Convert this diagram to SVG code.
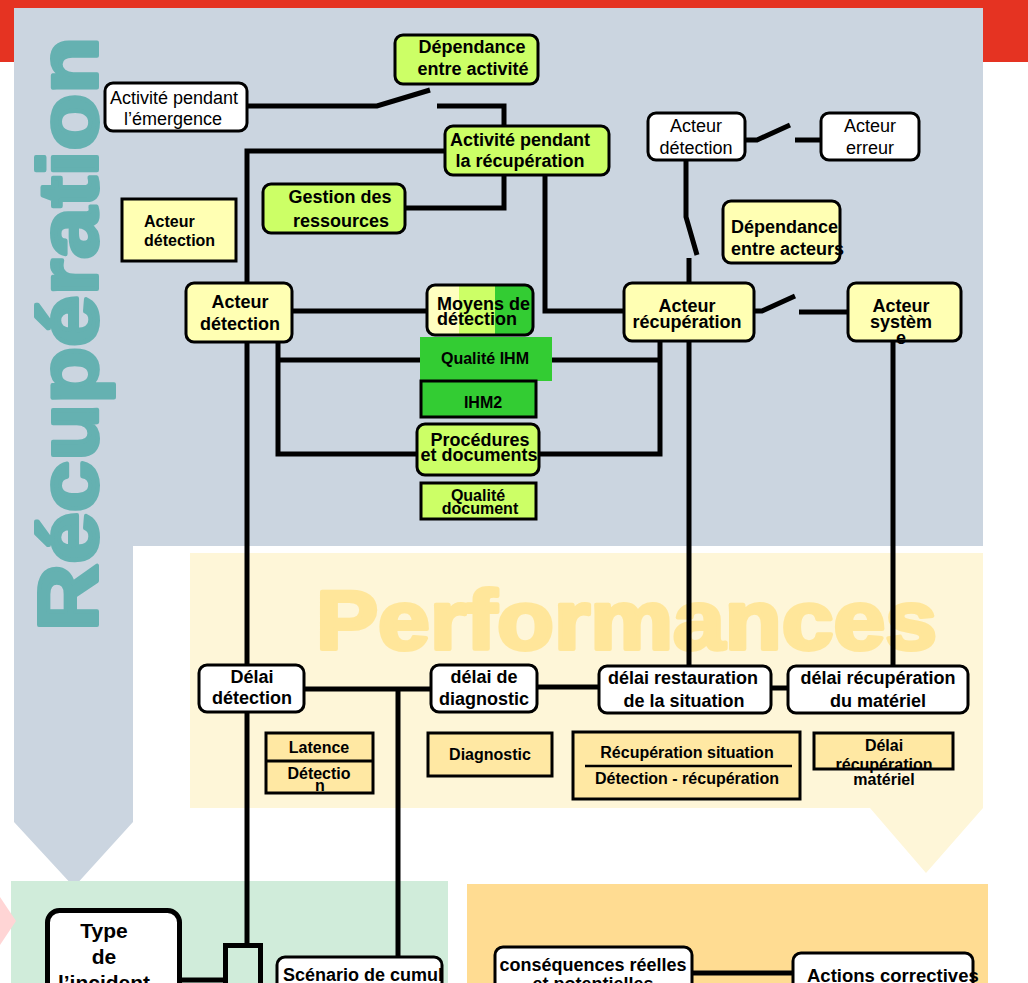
<svg xmlns="http://www.w3.org/2000/svg" width="1028" height="983" viewBox="0 0 1028 983">
<defs>
<linearGradient id="mdg" x1="0" y1="0" x2="1" y2="0">
<stop offset="0" stop-color="#FFFFC0"/><stop offset="0.30" stop-color="#FFFFC0"/>
<stop offset="0.30" stop-color="#CCFF66"/><stop offset="0.64" stop-color="#CCFF66"/>
<stop offset="0.64" stop-color="#33CC33"/><stop offset="1" stop-color="#33CC33"/>
</linearGradient>
<style>
.n{stroke:#000;stroke-width:3}
.t{font-family:"Liberation Sans",Arial,sans-serif;font-weight:bold;font-size:18px;text-anchor:middle;fill:#000}
.r{font-weight:normal}
.s{font-size:16px}
.st{text-anchor:start}
.c{fill:none;stroke:#000;stroke-width:5}
.gy{fill:#CCFF66}.yl{fill:#FFFFB3}.gr{fill:#33CC33}.w{fill:#fff}.pf{fill:#FFE8A3}
.big{font-family:"Liberation Sans",Arial,sans-serif;font-weight:bold;stroke-linejoin:round}
</style>
</defs>
<rect width="1028" height="983" fill="#fff"/>
<g id="backgrounds">
<rect x="0" y="0" width="1028" height="62" fill="#E53322"/>
<path d="M14,8 H983 V546 H133 V822 L74,887 L14,822 Z" fill="#CBD5E0"/>
<path d="M190,553 H983 V808 L926,873 L870,808 H190 Z" fill="#FEF6D8"/>
<rect x="11" y="881" width="437" height="102" fill="#D0ECDA"/>
<rect x="467" y="884" width="521" height="99" fill="#FFDC92"/>
<polygon points="0,897 16,921 0,945" fill="#FFD5D5"/>
<text class="big" transform="translate(97,631) rotate(-90)" font-size="84" fill="#65B1B1" stroke="#65B1B1" stroke-width="4" textLength="594" lengthAdjust="spacingAndGlyphs">Récupération</text>
<text class="big" x="316" y="649" font-size="83" fill="#FFE69A" stroke="#FFE69A" stroke-width="4" textLength="621" lengthAdjust="spacingAndGlyphs">Performances</text>
</g>
<g id="connectors">
<path class="c" d="M247,106 H377 L430,90"/>
<path class="c" d="M437,106 H504 V126"/>
<path class="c" d="M504,175 V208 H405"/>
<path class="c" d="M445,151 H247 V283"/>
<path class="c" d="M545,175 V311 H624"/>
<path class="c" d="M686,160 V217 L697,255"/>
<path class="c" d="M689,258 V283"/>
<path class="c" d="M745,140 H757 L790,125"/>
<path class="c" d="M795,140 H821"/>
<path class="c" d="M754,311 H762 L795,296"/>
<path class="c" d="M799,312 H848"/>
<path class="c" d="M292,311 H427"/>
<path class="c" d="M278,342 V454 H417"/>
<path class="c" d="M278,360 H420"/>
<path class="c" d="M660,341 V454 H539"/>
<path class="c" d="M552,360 H660"/>
<path class="c" d="M247,342 V665"/>
<path class="c" d="M247,712 V945"/>
<path class="c" d="M689,341 V666"/>
<path class="c" d="M893,341 V666"/>
<path class="c" d="M304,689 H431"/>
<path class="c" d="M537,687 H599"/>
<path class="c" d="M771,688 H788"/>
<path class="c" d="M398,689 V957"/>
<path class="c" d="M180,980 H223"/>
<path class="c" d="M692,973 H793"/>
</g>
<g id="dependance-activite">
<rect class="n gy" x="395" y="35" width="143" height="49" rx="8"/>
<text class="t" x="472" y="53">Dépendance</text>
<text class="t" x="473" y="75">entre activité</text>
</g>
<g id="activite-emergence">
<rect class="n w" x="105" y="83" width="142" height="48" rx="8"/>
<text class="t r" x="174" y="104">Activité pendant</text>
<text class="t r" x="173" y="125">l’émergence</text>
</g>
<g id="activite-recuperation">
<rect class="n gy" x="445" y="126" width="164" height="49" rx="8"/>
<text class="t" x="520" y="146">Activité pendant</text>
<text class="t" x="520" y="167">la récupération</text>
</g>
<g id="gestion-ressources">
<rect class="n gy" x="263" y="184" width="142" height="49" rx="8"/>
<text class="t" x="340" y="203">Gestion des</text>
<text class="t" x="341" y="227">ressources</text>
</g>
<g id="acteur-detection-legend">
<rect class="n yl" x="122" y="199" width="114" height="62"/>
<text class="t s st" x="144" y="227">Acteur</text>
<text class="t s st" x="144" y="246">détection</text>
</g>
<g id="acteur-detection-top">
<rect class="n w" x="648" y="113" width="97" height="47" rx="8"/>
<text class="t r" x="696" y="132">Acteur</text>
<text class="t r" x="696" y="154">détection</text>
</g>
<g id="acteur-erreur">
<rect class="n w" x="821" y="113" width="98" height="47" rx="8"/>
<text class="t r" x="870" y="132">Acteur</text>
<text class="t r" x="870" y="154">erreur</text>
</g>
<g id="dependance-acteurs">
<rect class="n yl" x="723" y="201" width="117" height="62" rx="8"/>
<text class="t st" x="731" y="233">Dépendance</text>
<text class="t st" x="731" y="255">entre acteurs</text>
</g>
<g id="acteur-detection">
<rect class="n yl" x="186" y="283" width="106" height="59" rx="8"/>
<text class="t" x="240" y="308">Acteur</text>
<text class="t" x="240" y="330">détection</text>
</g>
<g id="moyens-detection">
<rect class="n" x="427" y="285" width="106" height="50" rx="8" fill="url(#mdg)"/>
<text class="t st" x="437" y="310">Moyens de</text>
<text class="t st" x="437" y="325">détection</text>
</g>
<g id="qualite-ihm">
<rect class="gr" x="420" y="337" width="132" height="44"/>
<text class="t s" x="485" y="364">Qualité IHM</text>
</g>
<g id="ihm2">
<rect class="n gr" x="421" y="381" width="115" height="36"/>
<text class="t s" x="483" y="408">IHM2</text>
</g>
<g id="procedures">
<rect class="n gy" x="417" y="424" width="122" height="51" rx="8"/>
<text class="t" x="480" y="446">Procédures</text>
<text class="t" x="479" y="461">et documents</text>
</g>
<g id="qualite-document">
<rect class="n gy" x="421" y="483" width="115" height="36"/>
<text class="t s" x="478" y="501">Qualité</text>
<text class="t s" x="480" y="514">document</text>
</g>
<g id="acteur-recuperation">
<rect class="n yl" x="624" y="283" width="130" height="58" rx="8"/>
<text class="t" x="687" y="312">Acteur</text>
<text class="t" x="687" y="328">récupération</text>
</g>
<g id="acteur-systeme">
<rect class="n yl" x="848" y="283" width="113" height="58" rx="8"/>
<text class="t" x="901" y="312">Acteur</text>
<text class="t" x="901" y="328">systèm</text>
<text class="t" x="901" y="344">e</text>
</g>
<g id="delai-detection">
<rect class="n w" x="199" y="665" width="105" height="47" rx="8"/>
<text class="t" x="252" y="683">Délai</text>
<text class="t" x="252" y="704">détection</text>
</g>
<g id="delai-diagnostic">
<rect class="n w" x="431" y="665" width="106" height="47" rx="8"/>
<text class="t" x="484" y="683">délai de</text>
<text class="t" x="484" y="705">diagnostic</text>
</g>
<g id="latence">
<rect class="n pf" x="266" y="733" width="107" height="60"/>
<line class="n" x1="266" y1="761" x2="373" y2="761"/>
<text class="t s" x="319" y="753">Latence</text>
<text class="t s" x="319" y="779">Détectio</text>
<text class="t s" x="320" y="791">n</text>
</g>
<g id="diagnostic">
<rect class="n pf" x="428" y="733" width="124" height="43"/>
<text class="t s" x="490" y="760">Diagnostic</text>
</g>
<g id="delai-restauration">
<rect class="n w" x="599" y="666" width="172" height="47" rx="8"/>
<text class="t" x="683" y="684">délai restauration</text>
<text class="t" x="684" y="707">de la situation</text>
</g>
<g id="delai-recuperation-materiel">
<rect class="n w" x="788" y="666" width="180" height="47" rx="8"/>
<text class="t" x="878" y="684">délai récupération</text>
<text class="t" x="878" y="707">du matériel</text>
</g>
<g id="recuperation-situation">
<rect class="n pf" x="573" y="732" width="227" height="67"/>
<line x1="585" y1="766" x2="792" y2="766" stroke="#000" stroke-width="2.5"/>
<text class="t s" x="687" y="758">Récupération situation</text>
<text class="t s" x="687" y="784">Détection - récupération</text>
</g>
<g id="delai-materiel">
<rect class="n pf" x="814" y="733" width="139" height="36"/>
<text class="t s" x="884" y="751">Délai</text>
<text class="t s" x="884" y="770">récupération</text>
<text class="t s" x="884" y="785">matériel</text>
</g>
<g id="type-incident">
<rect class="w" x="47.5" y="910.5" width="132" height="100" rx="12" stroke="#000" stroke-width="5"/>
<text class="t" x="104" y="938" style="font-size:21px">Type</text>
<text class="t" x="104" y="964" style="font-size:21px">de</text>
<text class="t" x="104" y="990" style="font-size:21px">l’incident</text>
</g>
<g id="jonction">
<rect x="225.5" y="945.5" width="35" height="45" fill="none" stroke="#000" stroke-width="5"/>
</g>
<g id="scenario-cumul">
<rect class="n w" x="277" y="957" width="165" height="40" rx="8"/>
<text class="t st" x="283" y="981">Scénario de cumul</text>
</g>
<g id="consequences">
<rect class="n w" x="495" y="947" width="197" height="50" rx="8"/>
<text class="t" x="593" y="971">conséquences réelles</text>
<text class="t" x="593" y="990">et potentielles</text>
</g>
<g id="actions-correctives">
<rect class="n w" x="793" y="953" width="180" height="40" rx="8"/>
<text class="t st" x="807" y="982" style="font-size:18.5px">Actions correctives</text>
</g>
</svg>
